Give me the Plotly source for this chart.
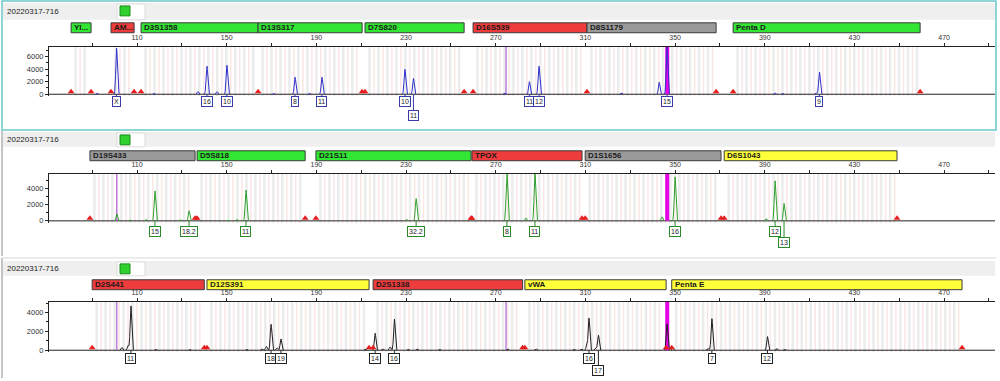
import numpy as np
import plotly.graph_objects as go

W, H = 1000, 381
sample_name = "20220317-716"

# ---------------- data ----------------
x_tick_vals = [90, 110, 130, 150, 170, 190, 210, 230, 250, 270, 290, 310, 330, 350, 370, 390, 410, 430, 450, 470, 490]
x_tick_text = ["", "110", "", "150", "", "190", "", "230", "", "270", "", "310", "", "350", "", "390", "", "430", "", "470", ""]

# Panel 1 (blue dye)
p1_markers = ["YI...", "AM...", "D3S1358", "D13S317", "D7S820", "D16S539", "D8S1179", "Penta D"]
p1_marker_start = [80.6, 98.4, 111.8, 164.0, 211.7, 259.9, 310.7, 375.9]
p1_marker_end = [89.5, 108.7, 164.0, 210.4, 255.9, 310.7, 368.3, 459.3]
p1_marker_kind = ["green", "red", "green", "green", "green", "red", "grey", "green"]
p1_allele_bp = [100.9, 141.2, 150.1, 180.5, 192.5, 229.5, 233.3, 285.0, 289.3, 346.4, 414.4]
p1_allele_height = [7300, 4450, 4600, 2700, 2700, 3950, 2500, 2000, 4450, 7500, 3500]
p1_allele_label = ["X", "16", "10", "8", "11", "10", "11", "11", "12", "15", "9"]
p1_allele_row = [1, 1, 1, 1, 1, 1, 2, 1, 1, 1, 1]
p1_minor_bp = [92.2, 117.6, 137.2, 145.7, 171.0, 187.0, 274.0, 326.1, 342.9, 394.6, 398.0, 413.0]
p1_minor_height = [200, 150, 450, 400, 120, 150, 200, 250, 1900, 200, 150, 300]
p1_purple_bp = [274.6]
p1_offscale_bp = [346.5]
p1_y_ticks = [0, 2000, 4000, 6000]

# Panel 2 (green dye)
p2_markers = ["D19S433", "D5S818", "D21S11", "TPOX", "D1S1656", "D6S1043"]
p2_marker_start = [89.0, 136.8, 189.8, 259.4, 309.9, 371.9]
p2_marker_end = [135.9, 185.0, 259.0, 308.5, 370.5, 449.0]
p2_marker_kind = ["grey", "green", "green", "red", "grey", "yellow"]
p2_allele_bp = [118.0, 133.2, 158.6, 234.5, 275.0, 287.5, 350.0, 394.6, 398.6]
p2_allele_height = [3700, 1250, 3800, 2750, 5850, 5850, 5450, 4950, 2150]
p2_allele_label = ["15", "18.2", "11", "32.2", "8", "11", "16", "12", "13"]
p2_allele_row = [1, 1, 1, 1, 1, 1, 1, 1, 2]
p2_minor_bp = [101.0, 106.9, 114.0, 129.4, 150.6, 154.6, 230.3, 274.6, 283.5, 344.2, 390.6]
p2_minor_height = [850, 120, 200, 150, 100, 200, 200, 300, 350, 500, 300]
p2_purple_bp = [101.0]
p2_offscale_bp = [346.5]
p2_y_ticks = [0, 2000, 4000]

# Panel 3 (black/yellow dye)
p3_markers = ["D2S441", "D12S391", "D2S1338", "vWA", "Penta E"]
p3_marker_start = [90.0, 141.2, 215.3, 283.0, 348.5]
p3_marker_end = [140.0, 213.5, 282.0, 346.0, 478.0]
p3_marker_kind = ["red", "yellow", "red", "yellow", "yellow"]
p3_allele_bp = [107.3, 169.8, 174.2, 216.2, 224.8, 311.6, 315.8, 366.4, 391.2]
p3_allele_height = [4700, 2750, 1200, 1800, 3300, 3400, 1600, 3350, 1450]
p3_allele_label = ["11", "18", "19", "14", "16", "16", "17", "7", "12"]
p3_allele_row = [1, 1, 1, 1, 1, 1, 2, 1, 1]
p3_minor_bp = [103.3, 106.0, 118.5, 133.6, 159.0, 165.8, 167.7, 172.5, 212.0, 219.7, 222.9, 231.0,
               235.0, 245.0, 275.4, 288.0, 305.0, 308.3, 310.6, 314.6, 346.4, 349.0, 364.6, 395.3, 399.0]
p3_minor_height = [300, 500, 100, 80, 100, 150, 400, 250, 150, 150, 350, 100,
                   150, 100, 150, 150, 100, 150, 450, 250, 2800, 250, 200, 200, 100]
p3_purple_bp = [101.0, 274.6]
p3_offscale_bp = [346.5]
p3_y_ticks = [0, 2000, 4000]

# ---------------- styles / geometry ----------------
FONT = "Liberation Sans, Arial, sans-serif"
NARROW = "Liberation Sans Narrow, Liberation Sans, Arial, sans-serif"
kind_fill = {"green": "#33e633", "red": "#ee3b3b", "grey": "#9a9a9a", "yellow": "#ffff3a"}
X_RANGE = [70.74, 492.7]
X_DOMAIN = [49 / W, 995 / W]


def py(p):
    return 1 - p / H


panels = [
    dict(markers=p1_markers, ms=p1_marker_start, me=p1_marker_end, mk=p1_marker_kind,
         abp=p1_allele_bp, ah=p1_allele_height, al=p1_allele_label, ar=p1_allele_row,
         mbp=p1_minor_bp, mh=p1_minor_height, purple=p1_purple_bp, off=p1_offscale_bp, yt=p1_y_ticks,
         color="#2f2fc8", lblcolor="#3a3aa8",
         yrange=[-315, 7560], top=47, zero=95, bottom=97,
         head=(3, 20), box=(23, 33), row1=102.5, row2=116.7),
    dict(markers=p2_markers, ms=p2_marker_start, me=p2_marker_end, mk=p2_marker_kind,
         abp=p2_allele_bp, ah=p2_allele_height, al=p2_allele_label, ar=p2_allele_row,
         mbp=p2_minor_bp, mh=p2_minor_height, purple=p2_purple_bp, off=p2_offscale_bp, yt=p2_y_ticks,
         color="#2ca02c", lblcolor="#2a8a2a",
         yrange=[-294, 5840], top=175, zero=222.6, bottom=225,
         head=(133, 148), box=(152, 162), row1=233, row2=244.5),
    dict(markers=p3_markers, ms=p3_marker_start, me=p3_marker_end, mk=p3_marker_kind,
         abp=p3_allele_bp, ah=p3_allele_height, al=p3_allele_label, ar=p3_allele_row,
         mbp=p3_minor_bp, mh=p3_minor_height, purple=p3_purple_bp, off=p3_offscale_bp, yt=p3_y_ticks,
         color="#1e1e1e", lblcolor="#222222",
         yrange=[-210, 5130], top=304.3, zero=353, bottom=355,
         head=(263, 278), box=(282, 292), row1=361.7, row2=373.7),
]

fig = go.Figure()
shapes = []
annotations = []

# panel frames
shapes.append(dict(type="rect", xref="paper", yref="paper", x0=2 / W, x1=996 / W, y0=py(131), y1=py(1),
                   line=dict(color="#6cc7c7", width=1.5), fillcolor="rgba(0,0,0,0)", layer="below"))
shapes.append(dict(type="line", xref="paper", yref="paper", x0=2 / W, x1=2 / W, y0=py(258), y1=py(132),
                   line=dict(color="#8a8a8a", width=1)))
shapes.append(dict(type="line", xref="paper", yref="paper", x0=2 / W, x1=2 / W, y0=py(381), y1=py(260),
                   line=dict(color="#8a8a8a", width=1)))
shapes.append(dict(type="line", xref="paper", yref="paper", x0=2 / W, x1=996 / W, y0=py(260), y1=py(260),
                   line=dict(color="#d8d8d8", width=1)))

sigma = 0.36
xs = np.arange(X_RANGE[0], X_RANGE[1], 0.04)

for i, P in enumerate(panels):
    n = "" if i == 0 else str(i + 1)
    xref, yref = "x" + n, "y" + n
    r0, r1 = P["yrange"]
    upp = (r1 - r0) / (P["bottom"] - P["top"])  # data units per pixel

    # header
    h0, h1 = P["head"]
    shapes.append(dict(type="rect", xref="paper", yref="paper", x0=3 / W, x1=995 / W, y0=py(h1), y1=py(h0),
                       line=dict(width=0), fillcolor="#efefef", layer="below"))
    shapes.append(dict(type="rect", xref="paper", yref="paper", x0=117 / W, x1=145 / W, y0=py(h1), y1=py(h0 + 1),
                       line=dict(color="#dcdcdc", width=1), fillcolor="#ffffff", layer="below"))
    shapes.append(dict(type="rect", xref="paper", yref="paper", x0=120 / W, x1=130 / W,
                       y0=py(h0 + 13), y1=py(h0 + 3),
                       line=dict(color="#1c8a1c", width=1), fillcolor="#2fd12f", layer="above"))
    annotations.append(dict(text=sample_name, xref="paper", yref="paper", x=5 / W, y=py((h0 + h1) / 2),
                            xanchor="left", yanchor="middle", showarrow=False,
                            font=dict(family=FONT, size=8, color="#222")))

    # marker boxes
    b0, b1 = P["box"]
    for name, s, e, k in zip(P["markers"], P["ms"], P["me"], P["mk"]):
        shapes.append(dict(type="rect", xref=xref, yref="paper", x0=s, x1=e, y0=py(b1), y1=py(b0),
                           line=dict(color="#3a3a3a", width=1), fillcolor=kind_fill[k]))
        annotations.append(dict(text="<b>" + name + "</b>", xref=xref, yref="paper", x=s, y=py((b0 + b1) / 2),
                                xanchor="left", yanchor="middle", xshift=1, showarrow=False,
                                font=dict(family=NARROW, size=8, color="#1a1a1a")))

    # bins (background stripes within each marker)
    gx, gy, px_, pyy = [], [], [], []
    for s, e in zip(P["ms"], P["me"]):
        for b in np.arange(s + 2.0, e - 1.0, 4.0):
            gx += [b, b, None]
            gy += [r0, r1, None]
            if b + 2.0 < e - 1.0:
                px_ += [b + 2.0, b + 2.0, None]
                pyy += [r0, r1, None]
    fig.add_trace(go.Scatter(x=gx, y=gy, mode="lines", line=dict(color="#ececec", width=2.5),
                             hoverinfo="skip", showlegend=False, xaxis=xref, yaxis=yref))
    fig.add_trace(go.Scatter(x=px_, y=pyy, mode="lines", line=dict(color="#fbe6e6", width=1.5),
                             hoverinfo="skip", showlegend=False, xaxis=xref, yaxis=yref))

    # baseline
    fig.add_trace(go.Scatter(x=X_RANGE, y=[0, 0], mode="lines", line=dict(color="#222", width=1),
                             hoverinfo="skip", showlegend=False, xaxis=xref, yaxis=yref))

    # purple markers
    for b in P["purple"]:
        fig.add_trace(go.Scatter(x=[b, b], y=[0, r1], mode="lines", line=dict(color="#a040d0", width=1),
                                 hoverinfo="skip", showlegend=False, xaxis=xref, yaxis=yref))
    # off-scale magenta
    for b in P["off"]:
        fig.add_trace(go.Scatter(x=[b, b], y=[0, r1], mode="lines", line=dict(color="#e600e6", width=4),
                                 hoverinfo="skip", showlegend=False, xaxis=xref, yaxis=yref))

    # electropherogram trace
    ys = np.zeros_like(xs)
    for mu, h in list(zip(P["abp"], P["ah"])) + list(zip(P["mbp"], P["mh"])):
        ys += h * np.exp(-0.5 * ((xs - mu) / sigma) ** 2)
    ys = np.where(ys < 0.004 * r1, np.nan, np.minimum(ys, r1))
    fig.add_trace(go.Scatter(x=xs, y=ys, mode="lines", line=dict(color=P["color"], width=1),
                             connectgaps=False, hoverinfo="skip", showlegend=False, xaxis=xref, yaxis=yref))

    # red triangles at marker edges
    edges = sorted(set(P["ms"] + P["me"]))
    fig.add_trace(go.Scatter(x=edges, y=[2.6 * upp] * len(edges), mode="markers",
                             marker=dict(symbol="triangle-up", size=6, color="#e81e1e", line=dict(width=0)),
                             hoverinfo="skip", showlegend=False, xaxis=xref, yaxis=yref))

    # allele labels
    for b, lab, row in zip(P["abp"], P["al"], P["ar"]):
        cy = P["row1"] if row == 1 else P["row2"]
        shapes.append(dict(type="line", xref=xref, yref="paper", x0=b, x1=b, y0=py(P["zero"]), y1=py(cy - 5),
                           line=dict(color=P["lblcolor"], width=1)))
        annotations.append(dict(text=lab, xref=xref, yref="paper", x=b, y=py(cy), xanchor="center",
                                yanchor="middle", showarrow=False, bgcolor="#ffffff",
                                bordercolor=P["lblcolor"], borderwidth=1, borderpad=1,
                                font=dict(family=FONT, size=7, color="#222")))

    # axes
    dom_y = [py(P["bottom"]), py(P["top"])]
    fig.update_layout(**{
        "xaxis" + n: dict(domain=X_DOMAIN, range=X_RANGE, side="top", anchor=yref, showgrid=False,
                          zeroline=False, showline=True, linecolor="#222", linewidth=1, mirror=False,
                          tickmode="array", tickvals=x_tick_vals, ticktext=x_tick_text,
                          ticks="outside", ticklen=3, tickcolor="#222",
                          tickfont=dict(family=FONT, size=7, color="#333"), fixedrange=True),
        "yaxis" + n: dict(domain=dom_y, range=P["yrange"], anchor=xref, showgrid=False,
                          zeroline=False,
                          showline=True, linecolor="#222", linewidth=1,
                          tickmode="array", tickvals=P["yt"], ticks="outside", ticklen=3, tickcolor="#222",
                          minor=dict(dtick=1000, ticks="outside", ticklen=2, tickcolor="#222"),
                          tickfont=dict(family=FONT, size=7.5, color="#333"), fixedrange=True),
    })

fig.update_layout(width=W, height=H, margin=dict(l=0, r=0, t=0, b=0),
                  paper_bgcolor="#ffffff", plot_bgcolor="rgba(0,0,0,0)",
                  shapes=shapes, annotations=annotations, showlegend=False)

fig.write_html("out.html", config={"displayModeBar": False},
               post_script="document.body.style.margin='0';document.body.style.overflow='hidden';")
